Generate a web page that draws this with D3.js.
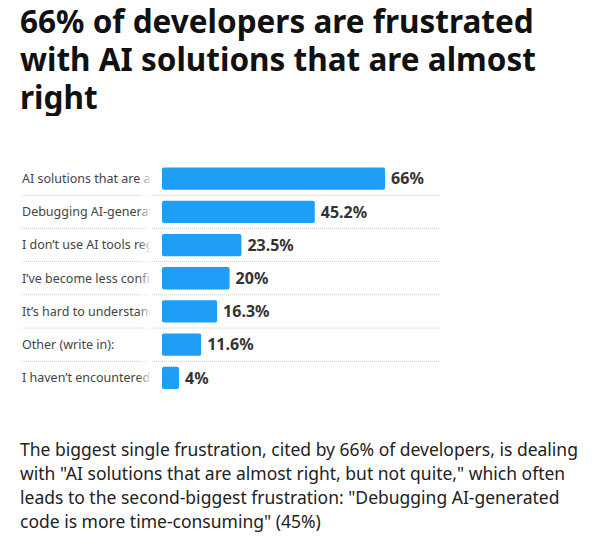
<!DOCTYPE html>
<html>
<head>
<meta charset="UTF-8">
<style>
  body { margin: 0; background: #fff; font-family: "Noto Sans", "Open Sans", sans-serif; }
  h1 { font-family: "Noto Sans", sans-serif; font-size: 31.5px; line-height: 38px; font-weight: 700; margin: 2px 0 0 20px; width: 570px; color: #111; }
  p.note { position: absolute; top: 437px; left: 20px; width: 562px; margin: 0; font-size: 17.5px; line-height: 24px; color: #222; }
</style>
</head>
<body>
<h1>66% of developers are frustrated with AI solutions that are almost right</h1>
<svg id="chart" width="600" height="260" style="position:absolute;top:160px;left:0"></svg>
<p class="note">The biggest single frustration, cited by 66% of developers, is dealing with "AI solutions that are almost right, but not quite," which often leads to the second-biggest frustration: "Debugging AI-generated code is more time-consuming" (45%)</p>
<script src="https://d3js.org/d3.v7.min.js"></script>
<script>
var categories = [
  "AI solutions that are almost right, but not quite",
  "Debugging AI-generated code is more time-consuming",
  "I don\u2019t use AI tools regularly",
  "I\u2019ve become less confident in my own problem-solving",
  "It\u2019s hard to understand how or why the code works",
  "Other (write in):",
  "I haven\u2019t encountered any problems"
];
var values = [66, 45.2, 23.5, 20, 16.3, 11.6, 4];
var valueLabels = ["66%", "45.2%", "23.5%", "20%", "16.3%", "11.6%", "4%"];

var svg = d3.select("#chart");
var x = d3.scaleLinear().domain([0, 100]).range([162, 500]);
var y = d3.scaleBand().domain(categories).range([2, 234.5]).paddingInner(0.33).paddingOuter(0.165);

// labels are cut off before the bars, as in the original
svg.append("clipPath").attr("id", "lab").append("rect")
  .attr("x", 0).attr("y", 0).attr("width", 150).attr("height", 260);

var grad = svg.append("defs").append("linearGradient").attr("id", "fade");
grad.append("stop").attr("offset", "0").attr("stop-color", "#fff").attr("stop-opacity", 0);
grad.append("stop").attr("offset", "1").attr("stop-color", "#fff").attr("stop-opacity", 1);

var step = y.step();
svg.selectAll("line.sep").data(categories.slice(0, -1)).enter().append("line")
  .attr("x1", 22).attr("x2", 440)
  .attr("y1", d => y(d) + y.bandwidth() + (step - y.bandwidth()) / 2)
  .attr("y2", d => y(d) + y.bandwidth() + (step - y.bandwidth()) / 2)
  .attr("stroke", "#ccc").attr("stroke-dasharray", "1,1");

svg.append("g").attr("clip-path", "url(#lab)")
  .selectAll("text").data(categories).enter().append("text")
  .attr("x", 22).attr("y", d => y(d) + y.bandwidth() / 2).attr("dy", "0.35em")
  .attr("font-size", 12.5).attr("fill", "#444")
  .text(d => d.length > 24 ? d.slice(0, 24) : d);
svg.append("rect").attr("x", 138).attr("y", 0).attr("width", 14).attr("height", 240).attr("fill", "url(#fade)");

svg.selectAll("rect.bar").data(values).enter().append("rect")
  .attr("class", "bar")
  .attr("x", x(0)).attr("y", (d, i) => y(categories[i]))
  .attr("width", d => Math.max(x(d) - x(0), 17)).attr("height", y.bandwidth())
  .attr("rx", 2).attr("fill", "#1e9ef5");

svg.selectAll("text.val").data(values).enter().append("text")
  .attr("x", d => x(0) + Math.max(x(d) - x(0), 17) + 6)
  .attr("y", (d, i) => y(categories[i]) + y.bandwidth() / 2).attr("dy", "0.36em")
  .attr("font-size", 16).attr("font-weight", 700).attr("fill", "#333")
  .text((d, i) => valueLabels[i]);
</script>
</body>
</html>
